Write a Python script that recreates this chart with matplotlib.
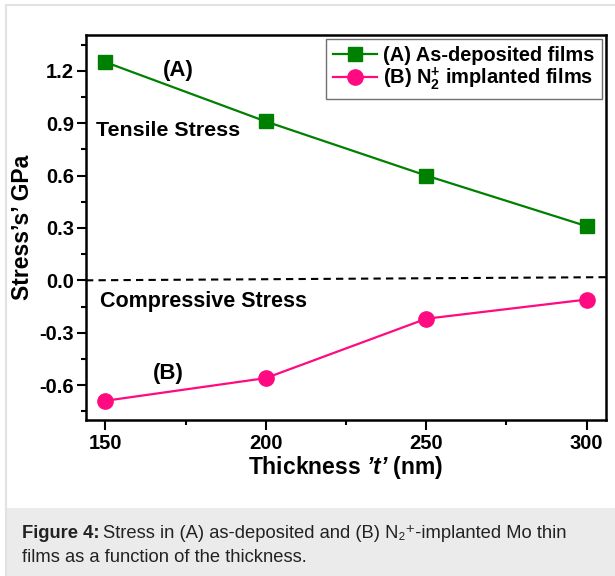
import matplotlib
matplotlib.use("Agg")
import matplotlib.pyplot as plt
from matplotlib.patches import Rectangle
from matplotlib.lines import Line2D
from matplotlib.ticker import MultipleLocator, FormatStrFormatter

plt.rcParams["font.family"] = ["Liberation Sans", "DejaVu Sans"]
plt.rcParams["mathtext.fontset"] = "custom"
plt.rcParams["mathtext.rm"] = "Liberation Sans"
plt.rcParams["mathtext.bf"] = "Liberation Sans:bold"
plt.rcParams["mathtext.it"] = "Liberation Sans:italic"
plt.rcParams["mathtext.bfit"] = "Liberation Sans:bold:italic"

# film thickness (nm) and residual stress (GPa)
thickness = [150, 200, 250, 300]
stress_as_deposited = [1.25, 0.91, 0.60, 0.31]
stress_implanted = [-0.69, -0.56, -0.22, -0.11]
labels = ["(A) As-deposited films", r"(B) N$_\mathbf{2}^\mathbf{+}$ implanted films"]

# zero-stress reference line
zero_x = [144, 306]
zero_y = [0.0, 0.018]

fig = plt.figure(figsize=(6.15, 5.76), dpi=100)

# page decoration: thin border and grey caption panel
fig.add_artist(Line2D([6 / 615, 1], [1 - 5 / 576, 1 - 5 / 576], color="#e2e2e2", lw=1.5))
fig.add_artist(Line2D([6 / 615, 6 / 615], [0, 1 - 5 / 576], color="#e2e2e2", lw=1.5))
fig.add_artist(Rectangle((6 / 615, 0), 1, 68 / 576, facecolor="#ebebeb",
                         edgecolor="none", transform=fig.transFigure))

ax = fig.add_axes([86 / 615, 156 / 576, 520 / 615, 385 / 576])

ax.plot(thickness, stress_as_deposited, "s-", color="#008000", lw=1.6,
        ms=10, label=labels[0])
ax.plot(thickness, stress_implanted, "o-", color="#ff0a80", lw=1.6,
        ms=11, label=labels[1])
ax.plot(zero_x, zero_y, "--", color="black", lw=1.5, dashes=(3.5, 2.5))

ax.set_xlim(144, 306)
ax.set_ylim(-0.8, 1.405)
ax.xaxis.set_major_locator(MultipleLocator(50))
ax.xaxis.set_minor_locator(MultipleLocator(25))
ax.yaxis.set_major_locator(MultipleLocator(0.3))
ax.yaxis.set_minor_locator(MultipleLocator(0.15))
ax.yaxis.set_major_formatter(FormatStrFormatter("%.1f"))

ax.tick_params(which="both", direction="out", width=1.5, top=False, right=False)
ax.tick_params(which="major", length=6.5, labelsize=14.5, pad=2)
ax.tick_params(axis="x", which="major", length=7, pad=3)
ax.tick_params(which="minor", length=3.5)
for lab in ax.get_xticklabels() + ax.get_yticklabels():
    lab.set_fontweight("bold")
for sp in ax.spines.values():
    sp.set_linewidth(1.8)

ax.set_xlabel("Thickness $\\mathbfit{\u2019t\u2019}$ (nm)", fontsize=16.5,
              fontweight="bold", labelpad=1)
ax.set_ylabel("Stress\u2019s\u2019 GPa", fontsize=16.5, fontweight="bold", labelpad=4)

ax.text(172.7, 1.2, "(A)", fontsize=16, fontweight="bold", ha="center", va="center")
ax.text(147.1, 0.86, "Tensile Stress", fontsize=15.4, fontweight="bold", ha="left", va="center")
ax.text(148.4, -0.124, "Compressive Stress", fontsize=15.5, fontweight="bold", ha="left", va="center")
ax.text(169.7, -0.533, "(B)", fontsize=16, fontweight="bold", ha="center", va="center")

leg = ax.legend(loc="upper right", prop={"weight": "bold", "size": 14.4},
                fancybox=False, framealpha=1, edgecolor="#707070",
                borderaxespad=0.2, handlelength=2.2, handletextpad=0.3,
                labelspacing=0.0, borderpad=0.36)
leg.get_frame().set_linewidth(1.0)

# caption
renderer = fig.canvas.get_renderer()
cap_x, cap_y1, cap_y2 = 22 / 615, 38 / 576, 14 / 576
head = fig.text(cap_x, cap_y1, "Figure 4:", fontsize=13.2, fontweight="bold",
                va="baseline", color="#222222")
w = head.get_window_extent(renderer).width / fig.bbox.width
fig.text(cap_x + w + 4 / 615, cap_y1,
         "Stress in (A) as-deposited and (B) N\u2082\u207a-implanted Mo thin",
         fontsize=13.2, va="baseline", color="#222222")
fig.text(cap_x, cap_y2, "films as a function of the thickness.",
         fontsize=13.2, va="baseline", color="#222222")

fig.savefig("out.png", dpi=100)
